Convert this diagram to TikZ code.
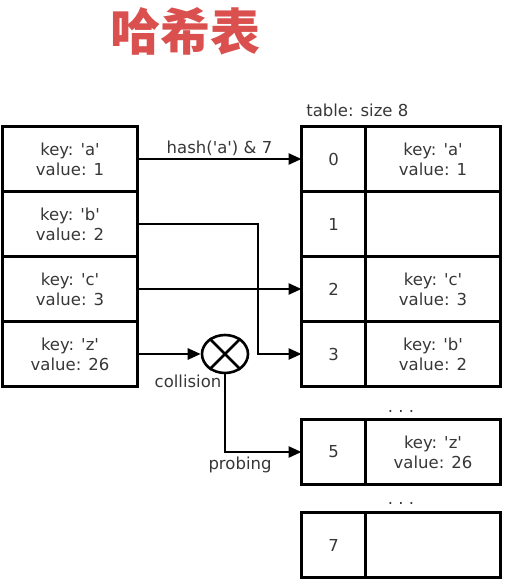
\documentclass[tikz,border=0pt]{standalone}
\usepackage{fontspec}
\setmainfont{DejaVu Sans}
\newfontfamily\cjk{Noto Sans CJK SC}
\usepackage{tikz}
\usetikzlibrary{arrows.meta}
\usetikzlibrary{positioning}
\usetikzlibrary{shapes.geometric}
\definecolor{titlered}{RGB}{217,80,78}
\definecolor{txtgray}{RGB}{55,55,55}
\newcommand{\sq}{\textquotesingle}

\begin{document}
\begin{tikzpicture}[
    x=1pt, y=-1pt,
    line width=2.6pt,
    every node/.style={text=txtgray, font=\fontsize{16.5}{20}\selectfont},
    cell/.style={
        draw=black, line width=2.4pt, outer sep=0pt,
        minimum height=65pt,
        align=center
    },
    kvbox/.style={cell, minimum width=135pt},
    idxbox/.style={cell, minimum width=64pt},
    valbox/.style={cell, minimum width=135pt},
    link/.style={draw=black, -{Triangle[length=13pt,width=11pt]}}
]
\useasboundingbox (0,0) rectangle (505,583);

% title
\node[text=titlered, font=\cjk\bfseries\fontsize{50}{54}\selectfont] (title) at (185,31) {哈希表};

% entries
\node[kvbox] (kva) at (70,159) {key: \sq a\sq\\value: 1};
\node[kvbox, below=0pt of kva] (kvb) {key: \sq b\sq\\value: 2};
\node[kvbox, below=0pt of kvb] (kvc) {key: \sq c\sq\\value: 3};
\node[kvbox, below=0pt of kvc] (kvz) {key: \sq z\sq\\value: 26};

% table
\node[idxbox] (idx0) at (333.5,159) {0};
\node[valbox, right=0pt of idx0] (val0) {key: \sq a\sq\\value: 1};
\node[idxbox, below=0pt of idx0] (idx1) {1};
\node[valbox, right=0pt of idx1] (val1) {};
\node[idxbox, below=0pt of idx1] (idx2) {2};
\node[valbox, right=0pt of idx2] (val2) {key: \sq c\sq\\value: 3};
\node[idxbox, below=0pt of idx2] (idx3) {3};
\node[valbox, right=0pt of idx3] (val3) {key: \sq b\sq\\value: 2};
\node[idxbox] (idx5) at (333.5,452) {5};
\node[valbox, right=0pt of idx5] (val5) {key: \sq z\sq\\value: 26};
\node[idxbox] (idx7) at (333.5,545) {7};
\node[valbox, right=0pt of idx7] (val7) {};

\node[anchor=south west, inner sep=0pt] (tsize) at (305,118) {table: size 8};
\node (dots1) at (401,411) {.\ .\ .};
\node (dots2) at (401,503) {.\ .\ .};

% collision marker
\node[draw=black, ellipse, minimum width=46pt, minimum height=38pt, inner sep=0pt] (coll) at (225,354) {};
\draw (coll.45) -- (coll.225);
\draw (coll.135) -- (coll.315);

% arrows
\coordinate (bturn) at (258,0);
\draw[link] (kva.east) -- node[above, inner sep=2pt] (hlab) {hash(\sq a\sq) \& 7} (idx0.west);
\draw[link] (kvb.east) -| (bturn |- idx3.west) -- (idx3.west);
\draw[link] (kvc.east) -- (idx2.west);
\draw[link] (kvz.east) -- (coll.west);
\draw[link] (coll.south) |- (idx5.west);
\node (clab) at (188,381) {collision};
\node (plab) at (240,465) {probing};
\end{tikzpicture}
\end{document}
